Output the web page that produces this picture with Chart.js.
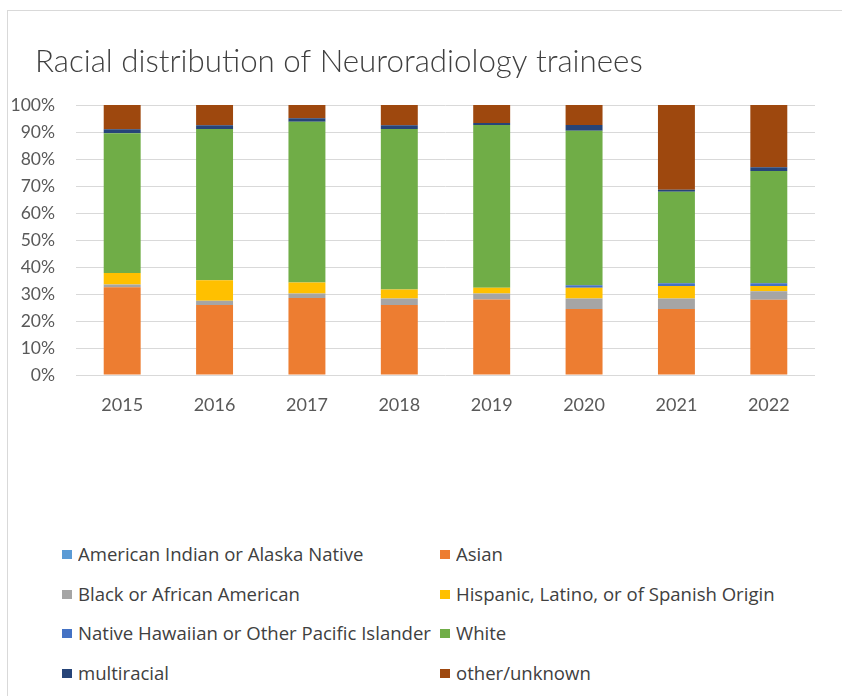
<!DOCTYPE html>
<html>
<head>
<meta charset="utf-8">
<script src="https://cdn.jsdelivr.net/npm/chart.js@4.4.1/dist/chart.umd.min.js"></script>
<style>
html,body{margin:0;padding:0;background:#fff;}
#frame{position:absolute;left:7px;top:10px;width:900px;height:760px;border:1px solid #d9d9d9;box-sizing:border-box;}
#chart{position:absolute;left:0;top:0;}
#legend{position:absolute;left:62px;top:543px;font-family:"Open Sans",sans-serif;font-size:18px;color:#404040;}
.item{position:absolute;height:22px;line-height:22px;white-space:nowrap;}
.item i{position:absolute;left:0;top:7px;width:10px;height:9px;}
.item span{position:absolute;left:16px;top:0;transform-origin:0 50%;}
</style>
</head>
<body>
<div id="frame"></div>
<canvas id="chart" width="842" height="440"></canvas>
<div id="legend"></div>
<script>
const years=['2015','2016','2017','2018','2019','2020','2021','2022'];
const amIndian=[0,0,0,0,0,0,0,0];
const asian=[32.5,25.9,28.5,25.9,28.0,24.4,24.4,27.9];
const black=[1.0,1.6,1.7,2.4,2.2,3.9,3.9,3.1];
const hispanic=[4.3,7.6,4.1,3.4,2.1,4.0,4.7,2.0];
const hawaiian=[0,0,0,0,0,0.9,1.0,1.0];
const white=[51.7,56.0,59.5,59.4,60.3,57.3,33.9,41.6];
const multiracial=[1.5,1.4,1.3,1.4,0.7,2.1,0.7,1.3];
const other=[9.0,7.5,4.9,7.5,6.7,7.4,31.4,23.1];
const yTicks=[0,10,20,30,40,50,60,70,80,90,100];
const titleText='Racial distribution of Neuroradiology trainees';

const series=[
  ['American Indian or Alaska Native',amIndian,'#5b9bd5'],
  ['Asian',asian,'#ed7d31'],
  ['Black or African American',black,'#a5a5a5'],
  ['Hispanic, Latino, or of Spanish Origin',hispanic,'#ffc000'],
  ['Native Hawaiian or Other Pacific Islander',hawaiian,'#4472c4'],
  ['White',white,'#70ad47'],
  ['multiracial',multiracial,'#264478'],
  ['other/unknown',other,'#9e480e']
];

const fontFam='Lato, sans-serif';

// title drawn by hand so it can sit right of the tick labels
const titlePlugin={id:'leftTitle',afterDraw(c){
  const g=c.ctx;g.save();
  g.font='300 31.3px '+fontFam;g.fillStyle='#404040';
  g.textAlign='left';g.textBaseline='alphabetic';
  g.fillText(titleText,35,72);
  g.restore();
}};

const ctx=document.getElementById('chart').getContext('2d');
const chart=new Chart(ctx,{
  type:'bar',
  data:{labels:years,datasets:series.map(s=>({label:s[0],data:s[1],backgroundColor:s[2],borderWidth:0,barPercentage:0.4,categoryPercentage:1}))},
  options:{
    responsive:false,animation:false,
    layout:{padding:{left:6,right:27,top:105,bottom:0}},
    plugins:{legend:{display:false},tooltip:{enabled:false},title:{display:false}},
    scales:{
      x:{stacked:true,grid:{display:false},border:{display:false},
        afterFit:s=>{s.height=65;},
        ticks:{color:'#595959',padding:11,font:{family:fontFam,size:18}}},
      y:{stacked:true,min:0,max:100,
        afterBuildTicks:s=>{s.ticks=yTicks.map(v=>({value:v}));},
        afterFit:s=>{s.width=70;},
        grid:{color:'#d9d9d9',drawTicks:false},border:{display:false},
        ticks:{color:'#595959',padding:21,font:{family:fontFam,size:17.5},callback:v=>v+'%'}}
    }
  },
  plugins:[titlePlugin]
});

// two-column legend like Excel's
const leg=document.getElementById('legend');
const m=document.createElement('canvas').getContext('2d');
m.font='18px "Open Sans"';
const scale=353/m.measureText(series[4][0]).width;
series.forEach((s,i)=>{
  const d=document.createElement('div');
  d.className='item';
  d.style.left=(i%2?378:0)+'px';
  d.style.top=Math.round(Math.floor(i/2)*39.5)+'px';
  d.innerHTML='<i style="background:'+s[2]+'"></i><span style="transform:scaleX('+scale.toFixed(3)+')">'+s[0]+'</span>';
  leg.appendChild(d);
});
</script>
</body>
</html>
